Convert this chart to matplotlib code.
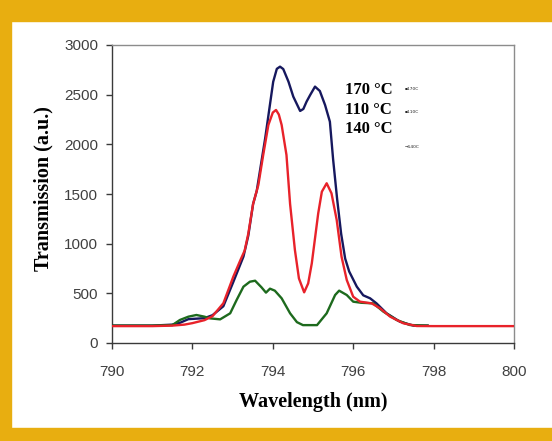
import matplotlib
matplotlib.use("Agg")
import matplotlib.pyplot as plt
from matplotlib.patches import Rectangle

# wavelength (nm) / transmission (a.u.)
wl_170 = [790.0, 791.0, 791.5, 791.7, 791.9, 792.1, 792.3, 792.5, 792.77, 793.02,
          793.27, 793.39, 793.51, 793.6, 793.81, 794.01, 794.1, 794.18, 794.26, 794.39,
          794.51, 794.68, 794.76, 794.84, 794.93, 795.05, 795.17, 795.3, 795.42, 795.5,
          795.6, 795.7, 795.8, 795.9, 796.09, 796.25, 796.42, 796.58, 796.83, 797.16,
          797.5, 797.85]
t_170 = [175, 175, 185, 205, 240, 245, 250, 280, 370, 617,
         870, 1080, 1400, 1530, 2060, 2630, 2760, 2782, 2758, 2631,
         2480, 2336, 2356, 2430, 2497, 2581, 2537, 2396, 2228, 1850,
         1450, 1100, 850, 720, 567, 480, 450, 399, 299, 215,
         175, 175]

wl_140 = [790.0, 791.0, 791.5, 791.69, 791.9, 792.1, 792.3, 792.44, 792.69, 792.94,
          793.1, 793.27, 793.43, 793.56, 793.72, 793.83, 793.93, 794.05, 794.22, 794.43,
          794.6, 794.75, 795.1, 795.34, 795.55, 795.65, 795.84, 796.0, 796.2, 796.5,
          796.75, 797.08, 797.41, 797.85]
t_140 = [175, 175, 180, 232, 265, 282, 265, 248, 238, 299,
         433, 567, 617, 627, 560, 507, 547, 527, 450, 299,
         210, 180, 180, 299, 483, 527, 483, 416, 405, 399,
         316, 232, 181, 175]

wl_110 = [790.0, 791.0, 791.5, 791.8, 792.0, 792.3, 792.5, 792.77, 793.02, 793.2,
          793.3, 793.39, 793.51, 793.64, 793.76, 793.89, 794.0, 794.08, 794.15, 794.22,
          794.34, 794.43, 794.55, 794.65, 794.78, 794.88, 794.97, 795.13, 795.22, 795.34,
          795.46, 795.59, 795.71, 795.84, 796.0, 796.17, 796.46, 796.67, 796.92, 797.25,
          797.58, 798.0, 800.0]
t_110 = [170, 170, 175, 185, 200, 230, 270, 400, 670, 840,
         930, 1100, 1400, 1590, 1890, 2195, 2320, 2346, 2300, 2195,
         1893, 1400, 936, 650, 510, 600, 802, 1306, 1523, 1608,
         1507, 1238, 869, 634, 466, 416, 399, 349, 265, 198,
         171, 170, 170]

labels = ["170 \u00b0C", "110 \u00b0C", "140 \u00b0C"]
x_ticks = [790, 792, 794, 796, 798, 800]
y_ticks = [0, 500, 1000, 1500, 2000, 2500, 3000]

W, H = 552, 441


def fx(x):
    return x / W


def fy(y):
    return 1 - y / H


fig = plt.figure(figsize=(W / 100, H / 100), dpi=100)
fig.patch.set_facecolor("white")

# yellow frame round the picture (top, bottom, left)
gold = "#e8ae10"
fig.patches.append(Rectangle((0, fy(21)), 1, 1 - fy(21), transform=fig.transFigure,
                             color=gold, zorder=0))
fig.patches.append(Rectangle((0, 0), 1, fy(428), transform=fig.transFigure,
                             color=gold, zorder=0))
fig.patches.append(Rectangle((0, 0), fx(11), 1, transform=fig.transFigure,
                             color=gold, zorder=0))

ax = fig.add_axes([fx(112), fy(343), fx(514) - fx(112), fy(45) - fy(343)])
ax.set_facecolor("white")

ax.plot(wl_170, t_170, color="#16185e", lw=1.7, zorder=3)
ax.plot(wl_140, t_140, color="#1d6a1d", lw=1.7, zorder=4)
ax.plot(wl_110, t_110, color="#e8222a", lw=1.7, zorder=5)

ax.set_xlim(790, 800)
ax.set_ylim(0, 3000)
ax.set_xticks(x_ticks)
ax.set_yticks(y_ticks)

for side in ["top", "right"]:
    ax.spines[side].set_color("#8c8c8c")
for side in ["left", "bottom"]:
    ax.spines[side].set_color("#3a3a3a")
for sp in ax.spines.values():
    sp.set_linewidth(1.0)

ax.tick_params(axis="x", direction="out", length=4, width=1, colors="#3a3a3a",
               pad=12, labelsize=11, labelcolor="#404040")
ax.tick_params(axis="y", direction="out", length=4, width=1, colors="#3a3a3a",
               pad=6, labelsize=11, labelcolor="#404040")
for lab in ax.get_xticklabels() + ax.get_yticklabels():
    lab.set_fontfamily("Liberation Sans")

fig.text(fx(313), fy(402), "Wavelength (nm)", ha="center", va="center",
         fontsize=14.5, fontweight="bold", family="Liberation Serif")
fig.text(fx(43), fy(189), "Transmission (a.u.)", ha="center", va="center",
         rotation=90, fontsize=14.5, fontweight="bold", family="Liberation Serif")

# legend: big labels with tiny handles to the right
for lab, y in zip(labels, [90, 110, 129]):
    fig.text(fx(345), fy(y), lab, ha="left", va="center", fontsize=12,
             fontweight="bold", family="Liberation Serif")
for lab, y in zip(["\u25aa170C", "\u25aa110C", "\u2192140C"], [89, 112, 147]):
    fig.text(fx(405), fy(y), lab, ha="left", va="center", fontsize=3.2,
             family="DejaVu Sans", color="#222222")

fig.savefig("out.png", dpi=100, facecolor=fig.get_facecolor())
